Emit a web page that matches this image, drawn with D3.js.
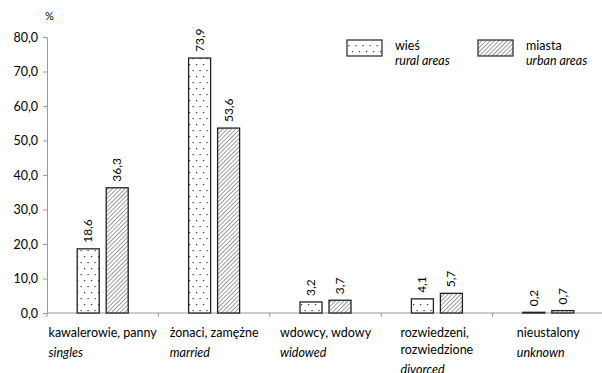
<!DOCTYPE html>
<html>
<head>
<meta charset="utf-8">
<script src="https://cdn.jsdelivr.net/npm/d3@7"></script>
<style>
  body { margin: 0; background: #fff; }
  text { font-family: Lato, "Open Sans", sans-serif; fill: #000; }
</style>
</head>
<body>
<div id="output"></div>
<script>
// Chart data
const categoriesPl = [["kawalerowie, panny"], ["żonaci, zamężne"], ["wdowcy, wdowy"], ["rozwiedzeni,", "rozwiedzione"], ["nieustalony"]];
const categoriesEn = ["singles", "married", "widowed", "divorced", "unknown"];
const ruralValues = [18.6, 73.9, 3.2, 4.1, 0.2];
const urbanValues = [36.3, 53.6, 3.7, 5.7, 0.7];
const yTicks = [0, 10, 20, 30, 40, 50, 60, 70, 80];

const W = 602, H = 373;
const margin = { top: 37, right: 0, bottom: 60, left: 47 };
const width = W - margin.left - margin.right + 2;
const height = H - margin.top - margin.bottom;
const fmt = v => v.toFixed(1).replace(".", ",");

const svg = d3.select("#output").append("svg")
  .attr("width", W)
  .attr("height", H);

// Patterns
const defs = svg.append("defs");
const dots = defs.append("pattern")
  .attr("id", "dots")
  .attr("patternUnits", "userSpaceOnUse")
  .attr("width", 7).attr("height", 12);
dots.append("rect").attr("width", 7).attr("height", 12).attr("fill", "#fff");
dots.append("rect").attr("x", 2).attr("y", 3).attr("width", 1.2).attr("height", 1.2).attr("fill", "#333");
dots.append("rect").attr("x", 5.5).attr("y", 9).attr("width", 1.2).attr("height", 1.2).attr("fill", "#333");

const hatch = defs.append("pattern")
  .attr("id", "hatch")
  .attr("patternUnits", "userSpaceOnUse")
  .attr("width", 3).attr("height", 3)
  .attr("patternTransform", "rotate(45)");
hatch.append("rect").attr("width", 3).attr("height", 3).attr("fill", "#fff");
hatch.append("line").attr("x1", 0).attr("y1", 0).attr("x2", 0).attr("y2", 3)
  .attr("stroke", "#555").attr("stroke-width", 1.2);

const g = svg.append("g").attr("transform", `translate(${margin.left},${margin.top})`);

// Scales
const x = d3.scaleBand().domain(d3.range(categoriesEn.length)).range([0, width]);
const y = d3.scaleLinear().domain([0, 80]).range([height, 0]);
const barW = 22, gap = 7;

// Y axis
const yAxis = g.append("g")
  .call(d3.axisLeft(y).tickValues(yTicks).tickFormat(fmt).tickSize(4).tickPadding(5));
yAxis.select(".domain").attr("stroke", "#999");
yAxis.selectAll(".tick line").attr("stroke", "#999");
yAxis.selectAll("text").style("font-size", "12.5px").style("font-family", "Lato, sans-serif");

// X axis with ticks on category boundaries
const xa = g.append("g").attr("transform", `translate(0,${height})`);
xa.append("line").attr("x1", 0).attr("x2", width).attr("stroke", "#999");
xa.selectAll(".xt").data(d3.range(categoriesEn.length + 1)).enter().append("line")
  .attr("x1", d => d * x.bandwidth()).attr("x2", d => d * x.bandwidth())
  .attr("y1", 0).attr("y2", 4).attr("stroke", "#999");

// Bars
const series = [
  { values: ruralValues, fill: "url(#dots)", off: -gap / 2 - barW },
  { values: urbanValues, fill: "url(#hatch)", off: gap / 2 }
];
series.forEach(s => {
  g.selectAll(null).data(s.values).enter().append("rect")
    .attr("x", (d, i) => x(i) + x.bandwidth() / 2 + s.off)
    .attr("y", d => y(d))
    .attr("width", barW)
    .attr("height", d => y(0) - y(d))
    .attr("fill", s.fill)
    .attr("stroke", "#222")
    .attr("stroke-width", 1.3);
  g.selectAll(null).data(s.values).enter().append("text")
    .attr("transform", (d, i) => `translate(${x(i) + x.bandwidth() / 2 + s.off + barW / 2 + 4},${y(d) - 6}) rotate(-90)`)
    .style("font-size", "12px")
    .text(d => fmt(d));
});

// Category labels
categoriesPl.forEach((lines, i) => {
  const lg = g.append("g");
  const all = lines.map(t => ({ t, it: false })).concat([{ t: categoriesEn[i], it: true }]);
  const texts = all.map((d, k) => lg.append("text")
    .attr("y", height + 24 + (lines.length > 1 ? [0, 17, 37][k] : k * 20))
    .style("font-size", "12.5px")
    .style("font-style", d.it ? "italic" : "normal")
    .text(d.t));
  const maxW = d3.max(texts, t => t.node().getComputedTextLength());
  const x0 = x(i) + x.bandwidth() / 2 - maxW / 2;
  texts.forEach(t => t.attr("x", x0));
});

// Legend
const legend = [
  { pl: "wieś", en: "rural areas", fill: "url(#dots)", x: 347 },
  { pl: "miasta", en: "urban areas", fill: "url(#hatch)", x: 478 }
];
legend.forEach(l => {
  svg.append("rect").attr("x", l.x).attr("y", 40).attr("width", 35).attr("height", 16)
    .attr("fill", l.fill).attr("stroke", "#222").attr("stroke-width", 1.2);
  svg.append("text").attr("x", l.x + 48).attr("y", 50).style("font-size", "12.5px").text(l.pl);
  svg.append("text").attr("x", l.x + 48).attr("y", 65).style("font-size", "12.5px")
    .style("font-style", "italic").text(l.en);
});

// Unit label
svg.append("text").attr("x", 45).attr("y", 20).style("font-size", "11px").text("%");
</script>
</body>
</html>
